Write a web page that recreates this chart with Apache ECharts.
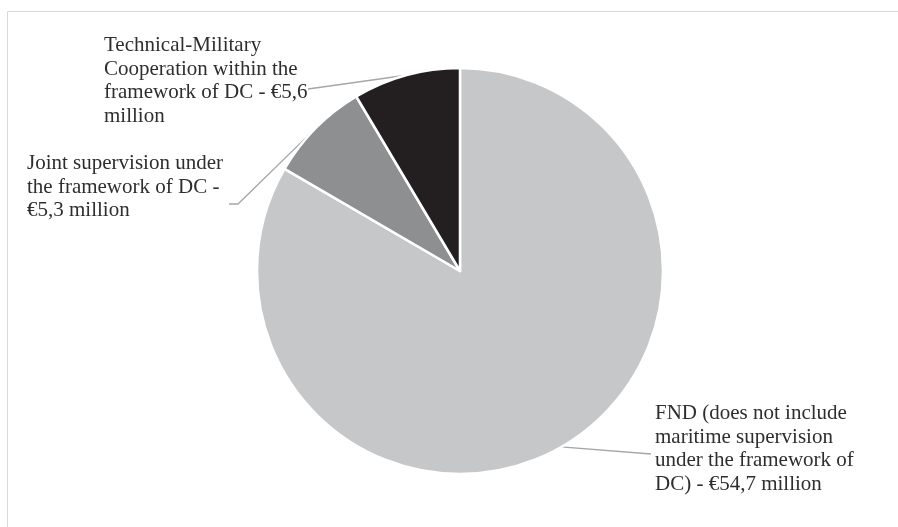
<!DOCTYPE html>
<html>
<head>
<meta charset="utf-8">
<style>
  html, body { margin: 0; padding: 0; background: #ffffff; }
  #chart { width: 898px; height: 527px; }
</style>
<script src="https://cdn.jsdelivr.net/npm/echarts@6/dist/echarts.min.js"></script>
</head>
<body>
<div id="chart"></div>
<script>
// Data (millions of euro)
const categories = [
  'FND (does not include\nmaritime supervision\nunder the framework of\nDC) - €54,7 million',
  'Joint supervision under\nthe framework of DC -\n€5,3 million',
  'Technical-Military\nCooperation within the\nframework of DC - €5,6\nmillion'
];
const values = [54.7, 5.3, 5.6];
const sliceColors = ['#c6c7c9', '#8d8f91', '#231f20'];

// Label placement (layout only)
const labelPlacement = [
  { x: 655, y: 402, end: [[651, 454]] },
  { x: 27,  y: 152, end: [[238, 204], [229, 204]] },
  { x: 104, y: 34,  end: [[308, 89]] }
];

const chart = echarts.init(document.getElementById('chart'), null, { renderer: 'canvas' });

const option = {
  backgroundColor: '#ffffff',
  animation: false,
  graphic: [{
    type: 'rect',
    shape: { x: 7.5, y: 11.5, width: 1200, height: 1000 },
    style: { fill: 'none', stroke: '#d9d9d9', lineWidth: 1 },
    silent: true
  }],
  series: [{
    type: 'pie',
    center: [460, 271],
    radius: [0, 203],
    startAngle: 90,
    clockwise: true,
    avoidLabelOverlap: false,
    itemStyle: { borderColor: '#ffffff', borderWidth: 2.5 },
    label: {
      show: true,
      position: 'outside',
      formatter: '{b}',
      fontFamily: "'Liberation Serif', 'Times New Roman', serif",
      fontSize: 21,
      lineHeight: 23.5,
      color: '#2e2e2e'
    },
    labelLine: {
      show: true,
      lineStyle: { color: '#a6a6a6', width: 1.3 }
    },
    labelLayout: function (params) {
      const p = labelPlacement[params.dataIndex];
      const start = params.labelLinePoints ? params.labelLinePoints[0] : null;
      const pts = start ? [start].concat(p.end) : null;
      const res = { x: p.x, y: p.y, align: 'left', verticalAlign: 'top' };
      if (pts) res.labelLinePoints = pts;
      return res;
    },
    data: categories.map((c, i) => ({
      name: c,
      value: values[i],
      itemStyle: { color: sliceColors[i] }
    }))
  }]
};

chart.setOption(option);
</script>
</body>
</html>
